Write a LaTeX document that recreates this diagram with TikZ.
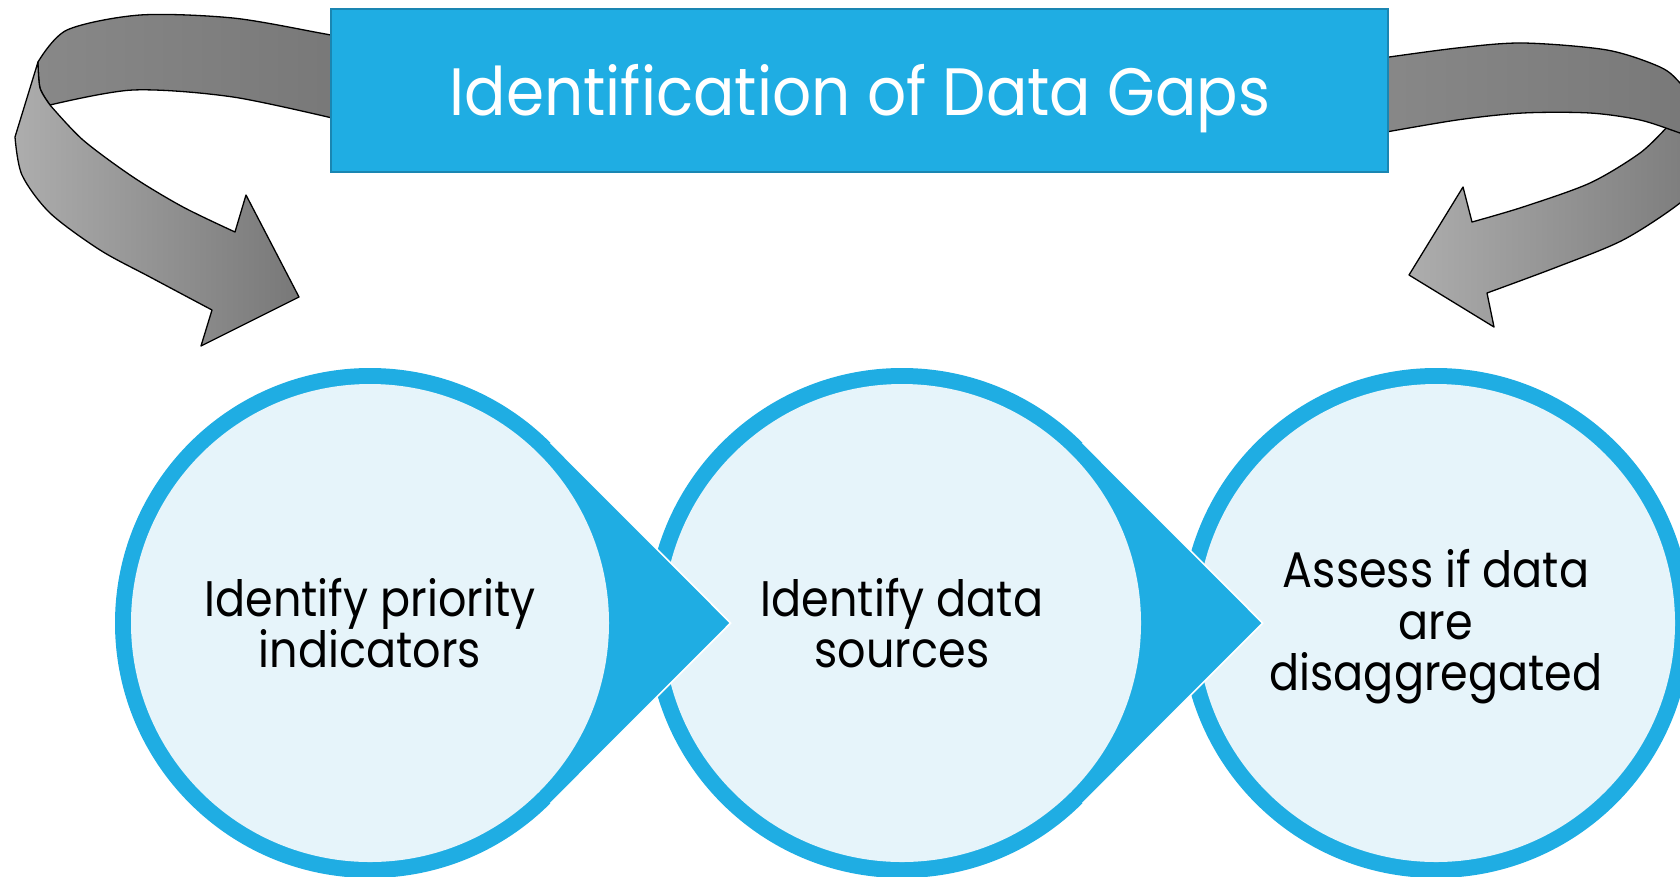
\documentclass[tikz,border=0pt]{standalone}
\usepackage{fontspec}
\setmainfont{Poppins}
\newfontfamily\titlefont[FakeStretch=0.915]{Poppins}
\newfontfamily\bodyfont[FakeStretch=0.89]{Poppins}
\usetikzlibrary{calc}
\definecolor{ringblue}{HTML}{1FADE3}
\definecolor{boxborder}{HTML}{1A86B2}
\definecolor{innerfill}{HTML}{E6F4FA}
\definecolor{greylight}{HTML}{ADADAD}
\definecolor{greydark}{HTML}{787878}
\definecolor{greymid}{HTML}{888888}
\begin{document}
\begin{tikzpicture}[x=1pt,y=-1pt,
  ring/.style={circle, fill=ringblue, minimum size=510pt, inner sep=0pt},
  innercirc/.style={circle, fill=innerfill, minimum size=478pt, inner sep=0pt},
  circtext/.style={align=center, inner sep=0pt, font=\bodyfont\fontsize{50}{51.5}\selectfont, text=black},
  ribbonfront/.style={draw=black, line width=1.3pt, line join=round, left color=greylight, right color=greydark},
  ribbonback/.style={draw=black, line width=1.3pt, line join=round, left color=greymid, right color=greydark},
  titlebox/.style={rectangle, fill=ringblue, draw=boxborder, line width=2.5pt,
    minimum width=1057pt, minimum height=163pt, inner sep=0pt},
  titletext/.style={anchor=base, inner sep=0pt, font=\titlefont\fontsize{67}{70}\selectfont, text=white},
  tipline/.style={white, line width=1.6pt, line join=miter}
]
\useasboundingbox (0,0) rectangle (1680,876);
\clip (0,0) rectangle (1680,876);

% left curved arrow
\path[ribbonback] plot[smooth] coordinates {(345,38) (320,33) (233,18) (140,15) (67,30) (38,62)}
  -- plot[smooth] coordinates {(38,62) (40,88) (50,105)}
  -- plot[smooth] coordinates {(50,105) (133,90) (233,97) (345,121)} -- cycle;
\path[ribbonfront] (38,62) -- (15,137)
  -- plot[smooth] coordinates {(15,137) (22,175) (50,213) (100,250) (150,277) (212,310)}
  -- (201,346) -- (299,297) -- (246,195) -- (235,232)
  -- plot[smooth] coordinates {(235,232) (183,207) (133,177) (83,140) (50,105)}
  -- plot[smooth] coordinates {(50,105) (40,88) (38,62)} -- cycle;

% right curved arrow
\path[ribbonfront] (1667,127)
  -- plot[smooth] coordinates {(1667,127) (1640,153) (1590,183) (1523,207) (1472,222)}
  -- (1463,187) -- (1409,275) -- (1494,327) -- (1487,293)
  -- plot[smooth] coordinates {(1487,293) (1557,267) (1623,240) (1680,203) (1720,165)}
  -- (1720,120) -- cycle;
\path[ribbonback] plot[smooth] coordinates {(1375,59) (1457,48) (1523,43) (1607,50) (1660,67) (1680,83) (1700,110)}
  -- plot[smooth] coordinates {(1700,140) (1680,133) (1640,120) (1590,113) (1523,113) (1457,120) (1375,134)} -- cycle;

% title
\node[titlebox] (title) at (859.5,90.5) {};
\node[titletext] (titletxt) at (860,115) {Identification of Data Gaps};

% circle 3
\node[ring] (r3) at (1436,623) {};
\node[innercirc] (c3) at (1436,623) {};
\node[circtext] (x3) at (1436,627) {Assess if data\\are\\disaggregated};

% circle 2
\node[ring] (r2) at (902,623) {};
\coordinate (t2) at (1262.6,623);
\fill[ringblue] (r2.45) -- (t2) -- (r2.-45) -- (r2.center) -- cycle;
\draw[tipline] (r2.45) -- (t2) -- (r2.-45);
\node[innercirc] (c2) at (902,623) {};
\node[circtext] (x2) at (902,623) {Identify data\\sources};

% circle 1
\node[ring] (r1) at (370,623) {};
\coordinate (t1) at (730.6,623);
\fill[ringblue] (r1.45) -- (t1) -- (r1.-45) -- (r1.center) -- cycle;
\draw[tipline] (r1.45) -- (t1) -- (r1.-45);
\node[innercirc] (c1) at (370,623) {};
\node[circtext] (x1) at (370,623) {Identify priority\\indicators};
\end{tikzpicture}
\end{document}
